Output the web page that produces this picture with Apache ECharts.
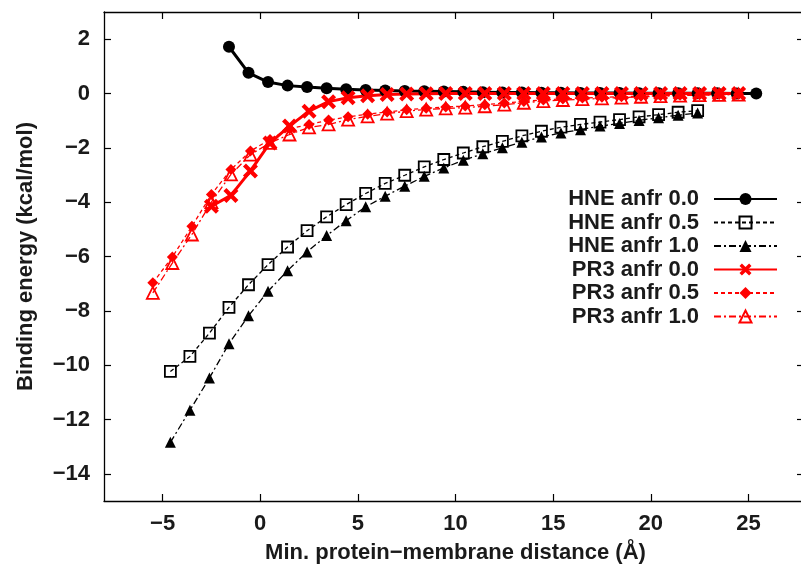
<!DOCTYPE html>
<html>
<head>
<meta charset="utf-8">
<script src="https://cdn.jsdelivr.net/npm/echarts@6/dist/echarts.min.js"></script>
<style>html,body{margin:0;padding:0;background:#fff}#c{width:801px;height:572px}</style>
</head>
<body>
<div id="c"></div>
<script>
const seriesNames = ['HNE anfr 0.0','HNE anfr 0.5','HNE anfr 1.0','PR3 anfr 0.0','PR3 anfr 0.5','PR3 anfr 1.0'];
const xTicks = [-5,0,5,10,15,20,25];
const yTicks = [-14,-12,-10,-8,-6,-4,-2,0,2];

const xHNE00 = [-1.6,-0.6,0.4,1.4,2.4,3.4,4.4,5.4,6.4,7.4,8.4,9.4,10.4,11.4,12.4,13.4,14.4,15.4,16.4,17.4,18.4,19.4,20.4,21.4,22.4,23.4,24.4,25.4];
const yHNE00 = [1.72,0.76,0.42,0.29,0.24,0.19,0.16,0.13,0.11,0.09,0.08,0.07,0.06,0.05,0.04,0.04,0.03,0.03,0.02,0.02,0.02,0.01,0.01,0.01,0.01,0.01,0.0,0.0];

const xHNE = [-4.6,-3.6,-2.6,-1.6,-0.6,0.4,1.4,2.4,3.4,4.4,5.4,6.4,7.4,8.4,9.4,10.4,11.4,12.4,13.4,14.4,15.4,16.4,17.4,18.4,19.4,20.4,21.4,22.4];
const yHNE05 = [-10.23,-9.68,-8.82,-7.87,-7.04,-6.3,-5.65,-5.05,-4.54,-4.09,-3.68,-3.31,-3.01,-2.7,-2.43,-2.19,-1.96,-1.76,-1.56,-1.39,-1.24,-1.14,-1.05,-0.96,-0.86,-0.78,-0.69,-0.63];
const yHNE10 = [-12.84,-11.66,-10.47,-9.21,-8.18,-7.28,-6.52,-5.83,-5.23,-4.68,-4.17,-3.78,-3.41,-3.05,-2.74,-2.46,-2.22,-2.0,-1.79,-1.6,-1.45,-1.33,-1.2,-1.1,-0.99,-0.89,-0.8,-0.72];

const xPR300 = [-2.5,-1.5,-0.5,0.5,1.5,2.5,3.5,4.5,5.5,6.5,7.5,8.5,9.5,10.5,11.5,12.5,13.5,14.5,15.5,16.5,17.5,18.5,19.5,20.5,21.5,22.5,23.5,24.5];
const yPR300 = [-4.15,-3.75,-2.85,-1.82,-1.2,-0.65,-0.3,-0.16,-0.08,-0.04,-0.02,-0.01,0,0,0,0,0,0,0,0,0,0,0,0,0,0,0,0];

const xPR3 = [-5.5,-4.5,-3.5,-2.5,-1.5,-0.5,0.5,1.5,2.5,3.5,4.5,5.5,6.5,7.5,8.5,9.5,10.5,11.5,12.5,13.5,14.5,15.5,16.5,17.5,18.5,19.5,20.5,21.5,22.5,23.5,24.5];
const yPR305 = [-6.97,-6.02,-4.89,-3.72,-2.8,-2.12,-1.69,-1.3,-1.14,-0.98,-0.86,-0.76,-0.68,-0.6,-0.54,-0.5,-0.46,-0.41,-0.35,-0.29,-0.24,-0.2,-0.17,-0.14,-0.12,-0.1,-0.08,-0.06,-0.05,-0.04,-0.03];
const yPR310 = [-7.34,-6.24,-5.19,-4.0,-2.98,-2.25,-1.82,-1.51,-1.25,-1.14,-0.96,-0.84,-0.74,-0.65,-0.59,-0.55,-0.52,-0.47,-0.41,-0.34,-0.28,-0.24,-0.21,-0.18,-0.15,-0.12,-0.1,-0.08,-0.06,-0.05,-0.04];

const pairs = (xs, ys) => xs.map((x, i) => [x, ys[i]]);
const FONT = '"Liberation Sans", Arial, Helvetica, sans-serif';
const TXT = '#1a1a1a';
const minus = v => String(v).replace('-', '\u2212');
const crossPath = 'path://M0,2 L2,0 L5,3 L8,0 L10,2 L7,5 L10,8 L8,10 L5,7 L2,10 L0,8 L3,5 Z';

const chart = echarts.init(document.getElementById('c'), null, {renderer: 'canvas'});
const axisLineStyle = {color: '#000', width: 1.3};
chart.setOption({
  animation: false,
  backgroundColor: '#fff',
  grid: {left: 104, top: 12, width: 703, height: 489, containLabel: false, outerBoundsMode: 'none'},
  xAxis: [{
    type: 'value', min: -8, max: 28, position: 'bottom',
    axisLine: {show: true, onZero: false, lineStyle: axisLineStyle},
    splitLine: {show: false},
    axisTick: {show: true, inside: true, length: 7, lineStyle: {color: '#000', width: 1.2}, customValues: xTicks},
    axisLabel: {customValues: xTicks, formatter: minus, margin: 12, fontFamily: FONT, fontWeight: 'bold', fontSize: 22, color: TXT},
    name: 'Min. protein\u2212membrane distance (\u00C5)', nameLocation: 'middle', nameGap: 41,
    nameTextStyle: {fontFamily: FONT, fontWeight: 'bold', fontSize: 22, color: TXT}
  }, {
    type: 'value', min: -8, max: 28, position: 'top',
    axisLine: {show: true, onZero: false, lineStyle: axisLineStyle},
    splitLine: {show: false},
    axisTick: {show: true, inside: true, length: 7, lineStyle: {color: '#000', width: 1.2}, customValues: xTicks},
    axisLabel: {show: false}
  }],
  yAxis: [{
    type: 'value', min: -15, max: 3, position: 'left',
    axisLine: {show: true, onZero: false, lineStyle: axisLineStyle},
    splitLine: {show: false},
    axisTick: {show: true, inside: true, length: 7, lineStyle: {color: '#000', width: 1.2}, customValues: yTicks},
    axisLabel: {customValues: yTicks, formatter: minus, margin: 14, fontFamily: FONT, fontWeight: 'bold', fontSize: 22, color: TXT},
    name: 'Binding energy (kcal/mol)', nameLocation: 'middle', nameGap: 67, nameRotate: 90,
    nameTextStyle: {fontFamily: FONT, fontWeight: 'bold', fontSize: 22, color: TXT}
  }, {
    type: 'value', min: -15, max: 3, position: 'right',
    axisLine: {show: false, onZero: false},
    splitLine: {show: false},
    axisTick: {show: true, inside: true, length: 10, lineStyle: {color: '#000', width: 1.2}, customValues: yTicks},
    axisLabel: {show: false}
  }],
  legend: {
    orient: 'vertical', align: 'right', right: 23, top: 188, padding: 0,
    itemWidth: 63, itemHeight: 15, itemGap: 1.5,
    textStyle: {fontFamily: FONT, fontWeight: 'bold', fontSize: 22, color: TXT, lineHeight: 18, padding: [0, 10, 0, 0]},
    data: seriesNames
  },
  series: [
    {name: seriesNames[0], type: 'line', data: pairs(xHNE00, yHNE00), symbol: 'circle', symbolSize: 12,
     itemStyle: {color: '#000'}, lineStyle: {color: '#000', width: 3}},
    {name: seriesNames[1], type: 'line', data: pairs(xHNE, yHNE05), symbol: 'rect', symbolSize: 11,
     itemStyle: {color: 'rgba(0,0,0,0)', borderColor: '#000', borderWidth: 1.8}, lineStyle: {color: '#000', width: 1.3, type: [4, 3]}},
    {name: seriesNames[2], type: 'line', data: pairs(xHNE, yHNE10), symbol: 'triangle', symbolSize: 11,
     itemStyle: {color: '#000'}, lineStyle: {color: '#000', width: 1.3, type: [7, 3, 2, 3]}},
    {name: seriesNames[3], type: 'line', data: pairs(xPR300, yPR300), symbol: crossPath, symbolSize: 15,
     itemStyle: {color: '#ff0000'}, lineStyle: {color: '#ff0000', width: 3}},
    {name: seriesNames[4], type: 'line', data: pairs(xPR3, yPR305), symbol: 'diamond', symbolSize: 11,
     itemStyle: {color: '#ff0000'}, lineStyle: {color: '#ff0000', width: 1.3, type: [4, 3]}},
    {name: seriesNames[5], type: 'line', data: pairs(xPR3, yPR310), symbol: 'triangle', symbolSize: 12,
     itemStyle: {color: 'rgba(0,0,0,0)', borderColor: '#ff0000', borderWidth: 1.8}, lineStyle: {color: '#ff0000', width: 1.3, type: [7, 3, 2, 3]}}
  ]
});
</script>
</body>
</html>
